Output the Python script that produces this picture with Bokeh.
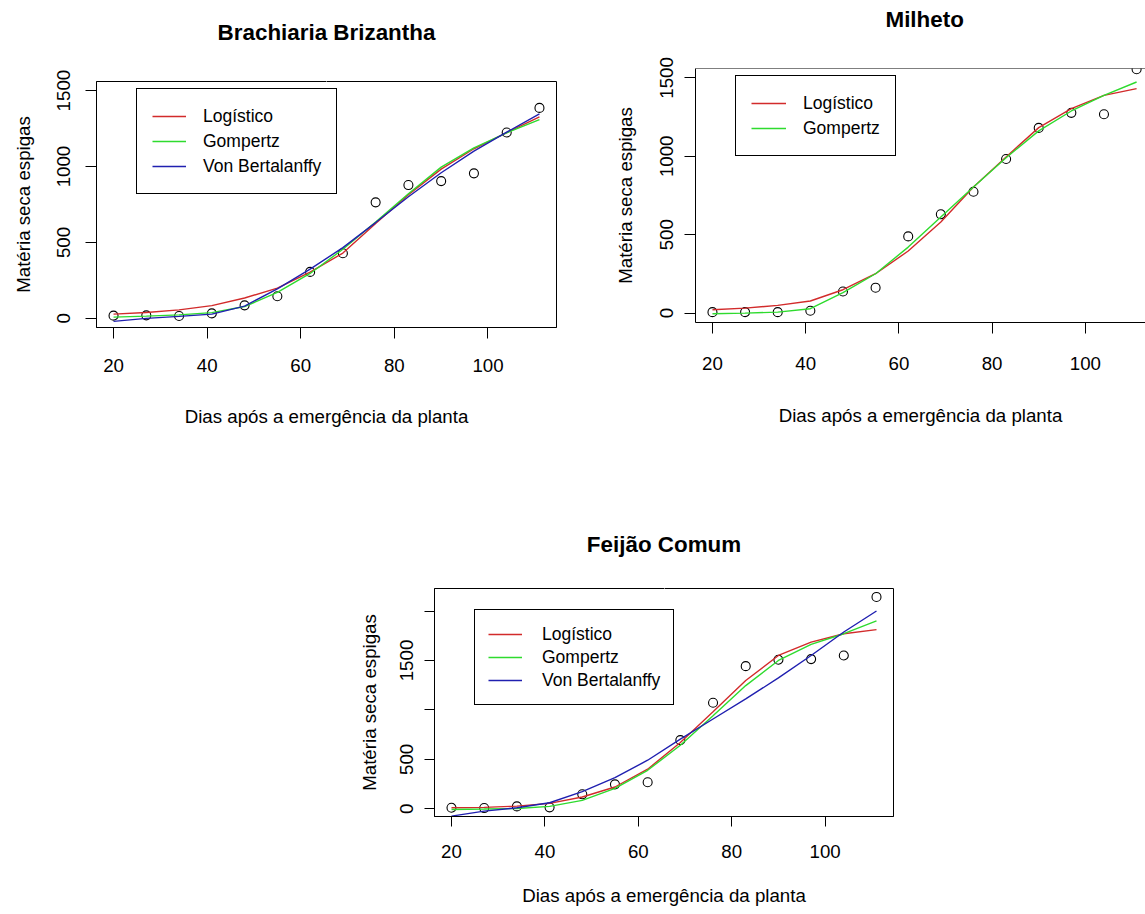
from bokeh.plotting import figure
from bokeh.models import (Range1d, FixedTicker, Legend, LegendItem, Spacer, Title,
                          LinearAxis, Span)
from bokeh.layouts import column, row
from bokeh.embed import file_html
from bokeh.resources import INLINE

# ---------------- data ----------------
dias = [20, 27, 34, 41, 48, 55, 62, 69, 76, 83, 90, 97, 104, 111]

# Brachiaria Brizantha
bra_obs = [18, 20, 16, 33, 86, 146, 306, 429, 764, 878, 904, 955, 1224, 1386]
bra_log = [28, 39, 56, 84, 134, 199, 304, 430, 625, 815, 983, 1117, 1224, 1327]
bra_gom = [8, 15, 23, 38, 78, 171, 296, 455, 635, 821, 996, 1123, 1222, 1309]
bra_vb = [-20, 0, 13, 28, 81, 195, 324, 466, 631, 801, 959, 1101, 1226, 1347]

# Milheto
mil_obs = [6, 6, 6, 15, 138, 162, 489, 630, 774, 983, 1181, 1277, 1268, 1555]
mil_log = [21, 32, 49, 77, 149, 251, 396, 581, 804, 996, 1183, 1304, 1389, 1432]
mil_gom = [-4, 0, 6, 28, 130, 251, 421, 613, 804, 991, 1162, 1289, 1389, 1474]

# Feijão Comum
fei_obs = [10, 7, 24, 14, 146, 247, 268, 694, 1073, 1443, 1507, 1514, 1551, 2143]
fei_log = [10, 14, 27, 54, 119, 220, 400, 671, 982, 1297, 1551, 1686, 1771, 1812]
fei_gom = [-7, -3, 3, 24, 85, 207, 389, 643, 941, 1246, 1500, 1663, 1771, 1900]
fei_vb = [-75, -24, 10, 61, 173, 315, 491, 704, 908, 1111, 1324, 1551, 1788, 2001]

x_ticks = [20, 40, 60, 80, 100]
y_ticks_a = [0, 500, 1000, 1500]
y_ticks_b = [0, 500, 1000, 1500, 2000]
y_hidden_b = [1000, 2000]

labels = ["Logístico", "Gompertz", "Von Bertalanffy"]
colors = ["#D22B2B", "#2EDB2E", "#2020B0"]

titles = ["Brachiaria Brizantha", "Milheto", "Feijão Comum"]
xlab = "Dias após a emergência da planta"
ylab = "Matéria seca espigas"

FONT = "Liberation Sans"
X_MID = 65.5


def make_fig(width, height, mbl, mbr, mbt, mbb, xr, yr, title, t_gap,
             tick_len, lab_stand_x, lab_stand_y, axlab_stand_x, axlab_stand_y,
             yticks, outline=True, title_align="center", title_offset=0):
    p = figure(width=width, height=height, x_range=Range1d(*xr), y_range=Range1d(*yr),
               output_backend="svg", toolbar_location=None,
               min_border_left=mbl, min_border_right=mbr,
               min_border_top=mbt, min_border_bottom=mbb)
    p.background_fill_color = "white"
    p.border_fill_color = "white"
    p.xgrid.visible = False
    p.ygrid.visible = False
    p.outline_line_color = "black" if outline else None
    p.outline_line_alpha = 1
    p.outline_line_width = 1

    xa = p.xaxis[0]
    ya = p.yaxis[0]
    xa.ticker = FixedTicker(ticks=x_ticks)
    ya.ticker = FixedTicker(ticks=yticks)
    for ax in (xa, ya):
        ax.axis_line_color = "black"
        ax.major_tick_line_color = "black"
        ax.major_tick_out = tick_len
        ax.major_tick_in = 0
        ax.minor_tick_line_color = None
        ax.major_label_text_font = FONT
        ax.major_label_text_font_size = "18.7px"
        ax.major_label_text_color = "black"
        ax.axis_label_text_font = FONT
        ax.axis_label_text_font_size = "18.7px"
        ax.axis_label_text_font_style = "normal"
        ax.axis_label_text_color = "black"
    xa.major_label_standoff = lab_stand_x
    ya.major_label_standoff = lab_stand_y
    xa.axis_label = xlab
    ya.axis_label = ylab
    xa.axis_label_standoff = axlab_stand_x
    ya.axis_label_standoff = axlab_stand_y
    ya.major_label_orientation = "vertical"

    # top edge: an axis with one white (invisible) tick; its extent sets the
    # gap between the box and the title
    top = LinearAxis(ticker=FixedTicker(ticks=[X_MID]), axis_line_color=None,
                     major_tick_line_color="white", minor_tick_line_color=None,
                     major_tick_out=t_gap, major_tick_in=0, minor_tick_out=0, minor_tick_in=0,
                     major_label_standoff=0, major_label_text_color=None,
                     major_label_text_font_size="1px", axis_label=None)
    p.add_layout(top, "above")

    p.add_layout(Title(text=title, align=title_align, offset=title_offset,
                       text_font=FONT, text_font_size="22.4px",
                       text_font_style="bold", text_color="black", standoff=0), "above")
    return p


def add_series(p, obs, curves, n_leg, leg_x, leg_top, frame_h, lab_h, pad, glyph_w, standoff):
    p.scatter(dias, obs, marker="circle", size=9, fill_color=None,
              line_color="black", line_width=1.1)
    rends = []
    for c, col in zip(curves, colors):
        rends.append(p.line(dias, c, line_color=col, line_width=1.4))
    leg_h = 2 * pad + n_leg * lab_h + (n_leg - 1) * 1
    items = [LegendItem(label=labels[i], renderers=[rends[i]]) for i in range(n_leg)]
    leg = Legend(items=items, location=(leg_x, frame_h - leg_top - leg_h),
                 border_line_color="black", border_line_width=1, border_line_alpha=1,
                 background_fill_color="white", background_fill_alpha=1,
                 label_text_font=FONT, label_text_font_size="17.5px", label_text_color="black",
                 glyph_width=glyph_w, glyph_height=lab_h, label_height=lab_h,
                 spacing=1, padding=pad, margin=0, label_standoff=standoff)
    p.add_layout(leg)


# Plot 1: Brachiaria (frame 246 px high)
p1 = make_fig(592, 68 + 246 + 123, 88, 44, 68, 123, (16.36, 114.64), (-60, 1560),
              titles[0], 37, 11, 20, 15, 31, 21, y_ticks_a)
add_series(p1, bra_obs, [bra_log, bra_gom, bra_vb], 3, 40, 9, 246, 24, 15, 34, 17)

# Plot 2: Milheto (cut at the right edge of the page, frame 254 px high)
p2 = make_fig(545, 68 + 254 + 123, 95, 0, 68, 123, (16.36, 112.91), (-60, 1560),
              titles[1], 37, 11, 23, 11, 32, 22, y_ticks_a, outline=False,
              title_align="left", title_offset=190)
p2.add_layout(Span(location=1560, dimension="width", line_color="black", line_width=1))
add_series(p2, mil_obs, [mil_log, mil_gom], 2, 40, 9, 254, 24, 15, 35, 17)

# Plot 3: Feijão Comum (frame 228 px high)
ylo = min(fei_obs) - 0.04 * (max(fei_obs) - min(fei_obs))
yhi = max(fei_obs) + 0.04 * (max(fei_obs) - min(fei_obs))
p3 = make_fig(595, 138 + 228 + 94, 96, 40, 138, 94, (16.36, 114.64), (ylo, yhi),
              titles[2], 32, 10, 18, 11, 24, 18, y_ticks_b)
p3.yaxis[0].major_label_overrides = {v: "" for v in y_hidden_b}
add_series(p3, fei_obs, [fei_log, fei_gom, fei_vb], 3, 40, 23, 228, 22, 13, 34, 20)

row1 = row(Spacer(width=8, height=450), column(Spacer(width=592, height=13), p1), p2)
row2 = row(Spacer(width=338, height=460), p3)
layout = column(row1, row2)

open("out.html", "w").write(file_html(layout, INLINE))
